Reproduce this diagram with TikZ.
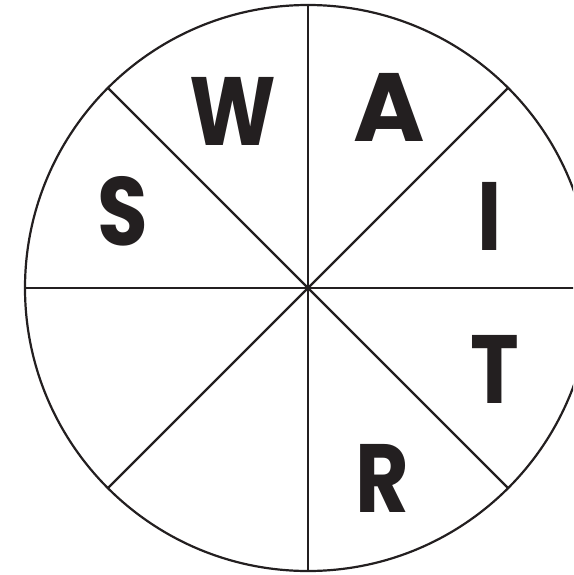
\documentclass[tikz,border=0pt]{standalone}
\usepackage{fontspec}
\setmainfont{Poppins}
\newfontfamily\wheelfont{Poppins}[FakeStretch=0.85]
\usetikzlibrary{calc}
\definecolor{ink}{HTML}{231F20}

\begin{document}
\begin{tikzpicture}[
    x=1pt, y=-1pt,
    wheel/.style={draw=ink, line width=2.2pt},
    letter/.style={anchor=base, inner sep=0pt, text=ink, font=\fontsize{97}{97}\wheelfont\bfseries},
    wide letter/.style={letter, font=\fontsize{97}{97}\rmfamily\bfseries},
]
    \useasboundingbox (0,0) rectangle (573,575);
    \clip (0,0) rectangle (573,575);

    % Wheel
    \coordinate (hub) at (308,288);
    \draw[wheel] (hub) circle[radius=283];
    \foreach \a in {0,45,...,315} {
        \coordinate (rim\a) at ($(hub)+(\a:283)$);
        \draw[wheel] (hub) -- (rim\a);
    }

    % Letters
    \node[letter] (w) at (233,145) {W};
    \node[wide letter] (a) at (389,141) {A};
    \node[letter] (i) at (490,250) {I};
    \node[letter] (t) at (495,403) {T};
    \node[letter] (r) at (382,512) {R};
    \node[letter] (s) at (123,245) {S};
\end{tikzpicture}
\end{document}
